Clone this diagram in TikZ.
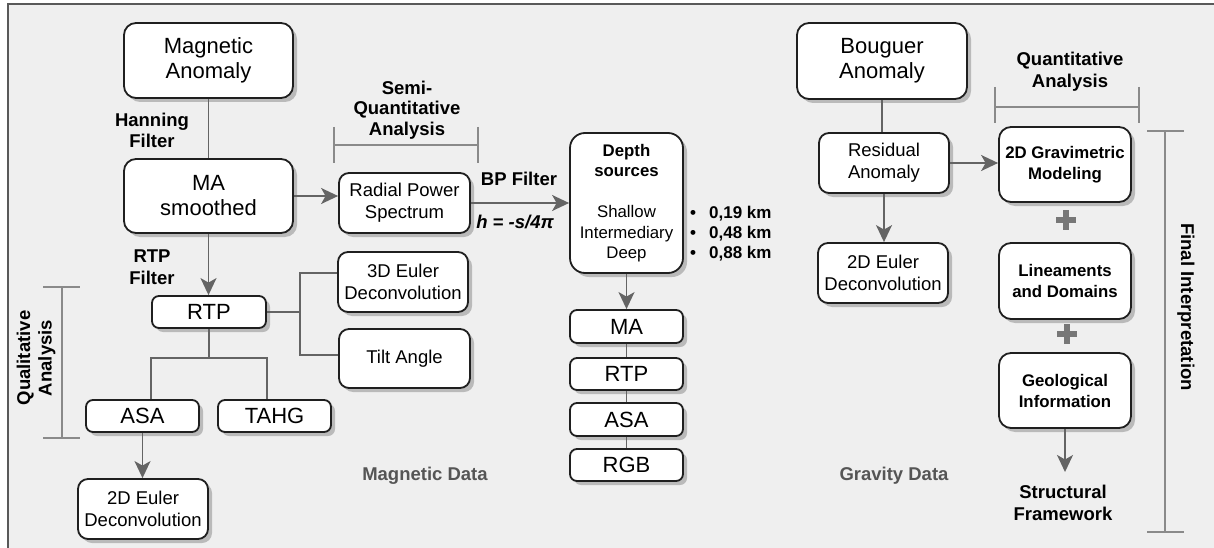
\documentclass[tikz,border=0pt]{standalone}
\usepackage{fontspec}
\setmainfont{Liberation Sans}
\usetikzlibrary{arrows.meta,shadows,calc}
\definecolor{bgc}{HTML}{EFEFEF}
\definecolor{linec}{HTML}{646464}
\definecolor{brc}{HTML}{8A8A8A}
\definecolor{datac}{HTML}{555555}
\definecolor{plusc}{HTML}{777777}
\begin{document}
\begin{tikzpicture}[x=1pt,y=-1pt,
 box/.style={draw=black!88, line width=1.8pt, fill=white, rounded corners=10pt,
   drop shadow={shadow xshift=4pt,shadow yshift=-4pt,fill=black!27,opacity=1},
   align=center, inner sep=0pt},
 bigtxt/.style={font=\fontsize{22}{25}\selectfont},
 midtxt/.style={font=\fontsize{18.5}{22}\selectfont},
 bbtxt/.style={font=\bfseries\fontsize{16.8}{21}\selectfont},
 lbl/.style={font=\bfseries\fontsize{18.5}{21.5}\selectfont, align=center, inner sep=0pt},
 conn/.style={draw=linec, line width=1.8pt},
 arr/.style={conn, -{Stealth[length=17pt,width=16pt,inset=4.5pt]}},
 brk/.style={draw=brc, line width=1.8pt},
 plus/.style={draw=plusc, line width=6pt},
]
\useasboundingbox (0,0) rectangle (1214,548);
\fill[bgc] (8,4) rectangle (1214,548);
\draw[black!65, line width=1.5pt] (8,548) -- (8,4) -- (1214,4);

% ---------- magnetic column ----------
\node[box,bigtxt,rounded corners=12pt,minimum width=169pt,minimum height=75pt] (magA) at (208.5,60.5) {Magnetic\\Anomaly};
\node[box,bigtxt,rounded corners=12pt,minimum width=169pt,minimum height=74pt] (masm) at (208.5,196) {MA\\smoothed};
\node[box,midtxt,minimum width=131pt,minimum height=60pt] (radial) at (404.5,203) {Radial Power\\Spectrum};
\node[box,midtxt,minimum width=130pt,minimum height=60pt] (euler3) at (403,282) {3D Euler\\Deconvolution};
\node[box,midtxt,minimum width=131pt,minimum height=59pt] (tilt) at (404.5,358.5) {Tilt Angle};
\node[box,bigtxt,rounded corners=7pt,minimum width=114pt,minimum height=32pt] (rtp) at (209,312) {RTP};
\node[box,bigtxt,rounded corners=7pt,minimum width=113pt,minimum height=32pt] (asa) at (142.5,416) {ASA};
\node[box,bigtxt,rounded corners=7pt,minimum width=113pt,minimum height=32pt] (tahg) at (274.5,416) {TAHG};
\node[box,midtxt,minimum width=130pt,minimum height=60pt] (euler2L) at (143,509) {2D Euler\\Deconvolution};

% ---------- depth column ----------
\node[box,rounded corners=15pt,minimum width=113pt,minimum height=140pt,font=\fontsize{16.8}{20.5}\selectfont] (depth) at (626.5,203)
  {\textbf{Depth}\\\textbf{sources}\\[20.5pt]Shallow\\Intermediary\\Deep};
\node[box,bigtxt,rounded corners=7pt,minimum width=113pt,minimum height=33pt] (ma2) at (626.5,326.5) {MA};
\node[box,bigtxt,rounded corners=7pt,minimum width=113pt,minimum height=32pt] (rtp2) at (626.5,374) {RTP};
\node[box,bigtxt,rounded corners=7pt,minimum width=113pt,minimum height=33pt] (asa2) at (626.5,419.5) {ASA};
\node[box,bigtxt,rounded corners=7pt,minimum width=113pt,minimum height=32pt] (rgb) at (626.5,465) {RGB};

% ---------- gravity column ----------
\node[box,bigtxt,rounded corners=12pt,minimum width=170pt,minimum height=76pt] (boug) at (882,61) {Bouguer\\Anomaly};
\node[box,midtxt,minimum width=130pt,minimum height=60pt] (resid) at (884,163) {Residual\\Anomaly};
\node[box,midtxt,minimum width=130pt,minimum height=60pt] (euler2R) at (883,273) {2D Euler\\Deconvolution};
\node[box,bbtxt,rounded corners=12pt,minimum width=132pt,minimum height=75pt] (grav) at (1065,164.5) {2D Gravimetric\\Modeling};
\node[box,bbtxt,rounded corners=12pt,minimum width=132pt,minimum height=76pt] (lin) at (1065,281) {Lineaments\\and Domains};
\node[box,bbtxt,rounded corners=12pt,minimum width=132pt,minimum height=75pt] (geo) at (1065,390.5) {Geological\\Information};

% ---------- labels ----------
\node[lbl] (hann) at (152,130.5) {Hanning\\Filter};
\node[lbl] (rtpf) at (152,267) {RTP\\Filter};
\node[lbl,font=\bfseries\fontsize{18.5}{20.5}\selectfont] (semi) at (407,110) {Semi-\\Quantitative\\Analysis};
\node[lbl] (quant) at (1070,71.5) {Quantitative\\Analysis};
\node[lbl] (bpf) at (519,179) {BP Filter};
\node[lbl,font=\bfseries\itshape\fontsize{18.5}{21.5}\selectfont] (hform) at (515,222) {h = -s/4π};
\node[lbl,anchor=west,align=left,font=\bfseries\fontsize{17}{20}\selectfont] (vals) at (690,234)
  {•\hspace{13pt}0,19 km\\•\hspace{13pt}0,48 km\\•\hspace{13pt}0,88 km};
\node[lbl,text=datac] (magdata) at (425,476) {Magnetic Data};
\node[lbl,text=datac] (gravdata) at (894,476) {Gravity Data};
\node[lbl,font=\bfseries\fontsize{18.5}{22}\selectfont] (sf) at (1063,503) {Structural\\Framework};
\node[lbl,rotate=90] (qual) at (36,358) {Qualitative\\Analysis};
\node[lbl,rotate=-90] (finint) at (1186,307) {Final Interpretation};

% ---------- connectors ----------
\draw[conn] (magA.south) -- (masm.north);
\draw[arr] (masm.east) -- (masm.east -| radial.west);
\draw[arr] (radial.east) -- (depth.west);
\draw[arr] (masm.south) -- (masm.south |- rtp.north);
\coordinate (jE) at (300,273);
\coordinate (jT) at (300,355);
\draw[conn] (rtp.east) -- (rtp.east -| jE);
\draw[conn] (euler3.west |- jE) -- (jE) -- (jT) -- (tilt.west |- jT);
\coordinate (jB) at (209,358);
\draw[conn] (rtp.south) -- (jB);
\draw[conn] (asa.north -| rtp.west) -- (rtp.west |- jB) -- (rtp.east |- jB) -- (tahg.north -| rtp.east);
\draw[arr] (asa.south) -- (asa.south |- euler2L.north);
\draw[arr] (depth.south) -- (ma2.north);
\draw[conn] (ma2.south) -- (rtp2.north);
\draw[conn] (rtp2.south) -- (asa2.north);
\draw[conn] (asa2.south) -- (rgb.north);
\draw[conn] (boug.south) -- (boug.south |- resid.north);
\draw[arr] (resid.east) -- (resid.east -| grav.west);
\draw[arr] (resid.south) -- (resid.south |- euler2R.north);
\coordinate (sfTop) at (1065,472);
\draw[arr] (geo.south) -- (sfTop);

% ---------- plus signs ----------
\draw[plus] (1056,220) -- (1076,220) (1066,210) -- (1066,230);
\draw[plus] (1057,334) -- (1077,334) (1067,324) -- (1067,344);

% ---------- brackets ----------
\draw[brk] (334,127) -- (334,163) (334,145) -- (478,145) (478,127) -- (478,163);
\draw[brk] (995,87) -- (995,123) (995,107) -- (1139,107) (1139,87) -- (1139,123);
\draw[brk] (43,287) -- (80,287) (62,287) -- (62,438) (43,438) -- (80,438);
\draw[brk] (1147,131) -- (1184,131) (1165,131) -- (1165,532) (1147,532) -- (1184,532);
\end{tikzpicture}
\end{document}
